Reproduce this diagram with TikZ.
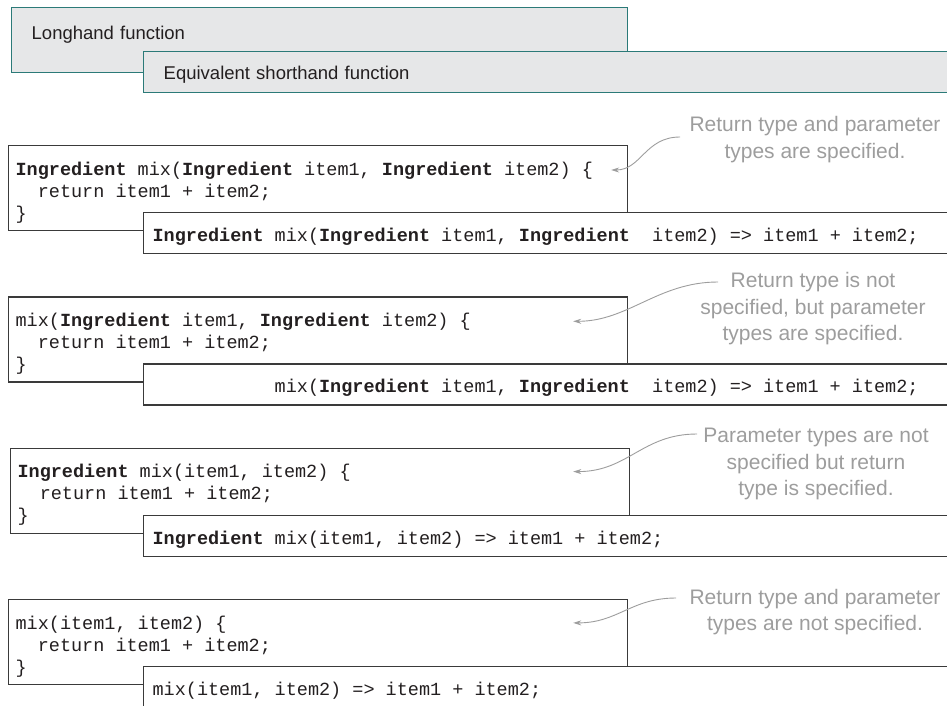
\documentclass[tikz,border=0pt]{standalone}
\usepackage{fontspec}
\setmainfont{Liberation Sans}
\setmonofont{Liberation Mono}
\usetikzlibrary{positioning,arrows.meta,calc}

\definecolor{legendline}{HTML}{2B7A78}
\definecolor{legendfill}{HTML}{E6E7E8}
\definecolor{boxline}{HTML}{3A3A3A}
\definecolor{notegray}{HTML}{9D9D9D}
\definecolor{codeink}{HTML}{231F20}

\newcommand{\codefont}{\ttfamily\fontsize{18.5}{22}\selectfont\frenchspacing}

\begin{document}
\begin{tikzpicture}[x=1pt,y=-1pt,
  legend/.style={draw=legendline,fill=legendfill,line width=1.4pt,anchor=north west,
    inner xsep=20pt,inner ysep=0pt,text=codeink,font=\fontsize{18.5}{22}\selectfont},
  monospaced/.style={execute at begin node={\spaceskip=11.1pt\xspaceskip=11.1pt\relax}},
  longbox/.style={draw=boxline,fill=white,line width=1.2pt,anchor=north west,
    text width=605pt,inner xsep=7pt,inner ysep=0pt,text height=29.5pt,text depth=55.5pt,
    align=left,text=codeink,font=\codefont,monospaced},
  shortbox/.style={draw=boxline,fill=white,line width=1.2pt,anchor=north west,
    text width=900pt,inner xsep=9pt,inner ysep=0pt,text height=29pt,text depth=12pt,
    align=left,text=codeink,font=\codefont,monospaced},
  note/.style={align=center,text=notegray,font=\fontsize{21}{26.5}\selectfont},
  pointer/.style={draw=notegray,line width=0.9pt,-{Stealth[length=8pt,width=5pt]}}]

    \useasboundingbox (0,0) rectangle (947,706);

% legend
    \node[legend,text width=576pt,text height=31.5pt,text depth=33.5pt] (longkey) at (11,7) {Longhand function};
    \node[legend,text width=800pt,text height=27.5pt,text depth=13.5pt] (shortkey) at (143,51) {Equivalent shorthand function};

% return type and parameter types
    \node[longbox] (long1) at (8,145) {\textbf{Ingredient} mix(\textbf{Ingredient} item1, \textbf{Ingredient} item2) \{\\
      \hspace*{22.2pt}return item1 + item2;\\
      \}};
    \node[shortbox] (short1) at ($(long1.north west)+(135,67)$) {\textbf{Ingredient} mix(\textbf{Ingredient} item1, \textbf{Ingredient}\ \ item2) => item1 + item2;};
    \node[note] (note1) at (815,139.5) {Return type and parameter\\types are specified.};
    \coordinate (from1) at (680,137);
    \coordinate (tip1) at ($(long1.north east)+(-17,25)$);
    \draw[pointer] (from1) .. controls +(-35,0) and +(30,0) .. (tip1);

% parameter types only
    \node[longbox] (long2) at ($(long1.north west)+(0,151.3)$) {mix(\textbf{Ingredient} item1, \textbf{Ingredient} item2) \{\\
      \hspace*{22.2pt}return item1 + item2;\\
      \}};
    \node[shortbox] (short2) at ($(long2.north west)+(135,67)$) {\hspace*{122.1pt}mix(\textbf{Ingredient} item1, \textbf{Ingredient}\ \ item2) => item1 + item2;};
    \node[note] (note2) at (813,309) {Return type is not\\specified, but parameter\\types are specified.};
    \coordinate (from2) at (718,282);
    \coordinate (tip2) at ($(long2.north east)+(-55,25)$);
    \draw[pointer] (from2) .. controls +(-60,0) and +(55,0) .. (tip2);

% return type only
    \node[longbox] (long3) at ($(long2.north west)+(2,151.3)$) {\textbf{Ingredient} mix(item1, item2) \{\\
      \hspace*{22.2pt}return item1 + item2;\\
      \}};
    \node[shortbox] (short3) at ($(long3.north west)+(133,67)$) {\textbf{Ingredient} mix(item1, item2) => item1 + item2;};
    \node[note] (note3) at (816,464) {Parameter types are not\\specified but return\\type is specified.};
    \coordinate (from3) at (697,434);
    \coordinate (tip3) at ($(long3.north east)+(-57,24)$);
    \draw[pointer] (from3) .. controls +(-55,0) and +(55,0) .. (tip3);

% nothing specified
    \node[longbox] (long4) at ($(long3.north west)+(-2,151.3)$) {mix(item1, item2) \{\\
      \hspace*{22.2pt}return item1 + item2;\\
      \}};
    \node[shortbox] (short4) at ($(long4.north west)+(135,67)$) {mix(item1, item2) => item1 + item2;};
    \node[note] (note4) at (815,612) {Return type and parameter\\types are not specified.};
    \coordinate (from4) at (676,598);
    \coordinate (tip4) at ($(long4.north east)+(-55,24)$);
    \draw[pointer] (from4) .. controls +(-45,0) and +(45,0) .. (tip4);

\end{tikzpicture}
\end{document}
